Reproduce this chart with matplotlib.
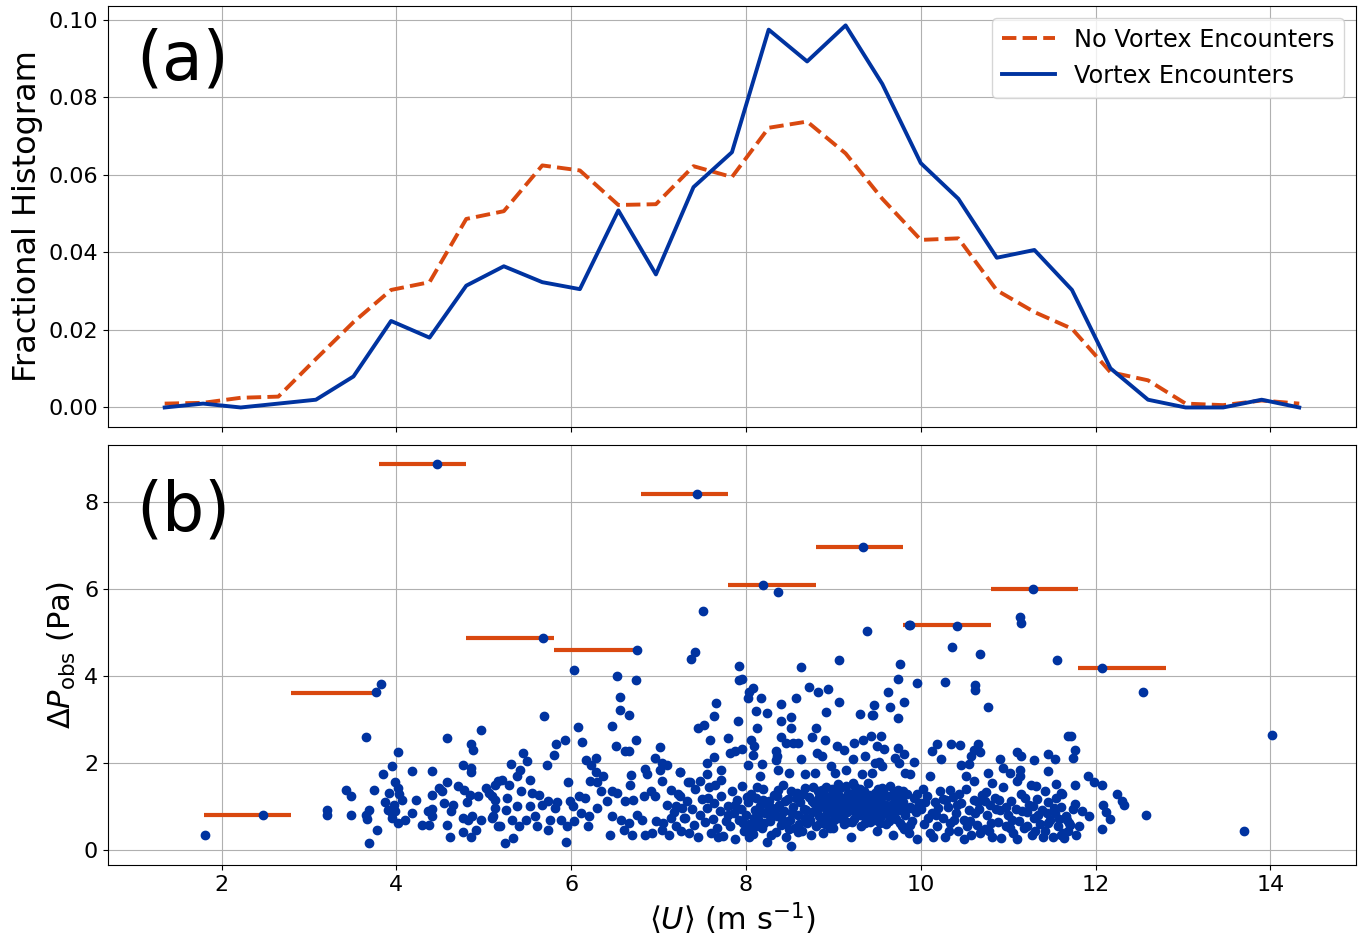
import matplotlib
matplotlib.use("Agg")
import matplotlib.pyplot as plt
import numpy as np

# colours
BLUE = '#0033a0'
ORANGE = '#d9480f'

# ---- panel (a): fractional histograms of <U> ----
u_centers = [1.35, 1.79, 2.22, 2.65, 3.08, 3.51, 3.94, 4.38, 4.80, 5.23, 5.67,
             6.10, 6.54, 6.97, 7.40, 7.84, 8.26, 8.70, 9.14, 9.56, 10.00,
             10.43, 10.87, 11.30, 11.73, 12.17, 12.60, 13.03, 13.46, 13.90, 14.33]
frac_no_vortex = [0.0010, 0.0012, 0.0025, 0.0028, 0.0125, 0.0220, 0.0303, 0.0323,
                  0.0486, 0.0506, 0.0624, 0.0611, 0.0522, 0.0524, 0.0622, 0.0594,
                  0.0721, 0.0737, 0.0655, 0.0538, 0.0432, 0.0436, 0.0302, 0.0246,
                  0.0203, 0.0091, 0.0070, 0.0010, 0.0006, 0.0018, 0.0010]
frac_vortex = [0.0000, 0.0010, 0.0000, 0.0010, 0.0020, 0.0080, 0.0223, 0.0180,
               0.0314, 0.0364, 0.0323, 0.0305, 0.0508, 0.0343, 0.0568, 0.0658,
               0.0974, 0.0892, 0.0985, 0.0834, 0.0630, 0.0538, 0.0386, 0.0406,
               0.0303, 0.0101, 0.0020, 0.0000, 0.0000, 0.0020, 0.0000]

# ---- panel (b): pressure drop of each encounter vs <U> ----
encounters = [
    # sparse / upper points
    (1.81, 0.36), (2.47, 0.80), (3.77, 3.63), (3.82, 3.82), (4.46, 8.88),
    (5.68, 4.88), (6.75, 4.59), (7.44, 8.18), (8.19, 6.09), (8.37, 5.93),
    (9.34, 6.97), (9.88, 5.18), (10.42, 5.15), (11.28, 6.01), (12.07, 4.19),
    (12.54, 3.63), (13.70, 0.45), (14.02, 2.65),
    # 3 - 5 m/s
    (3.65, 2.60), (4.02, 2.26), (3.95, 1.93), (3.85, 1.76), (4.18, 1.81),
    (4.41, 1.81), (4.58, 2.57), (4.97, 2.77), (4.85, 2.44), (4.88, 2.30),
    (4.76, 1.95), (4.86, 1.90), (4.86, 1.80), (3.21, 0.93), (3.21, 0.81),
    (3.42, 1.38), (3.48, 1.24), (3.48, 0.80), (3.65, 0.81), (3.69, 0.93),
    (3.67, 0.72), (3.75, 1.39), (3.78, 0.47), (3.69, 0.16), (3.99, 1.56),
    (3.92, 1.31), (4.02, 1.43), (4.03, 1.29), (4.06, 1.16), (3.87, 1.11),
    (3.90, 0.93), (3.95, 0.85), (3.97, 1.04), (3.99, 0.91), (3.95, 0.74),
    (4.02, 0.62), (4.10, 0.70), (4.18, 0.85), (4.22, 1.16), (4.29, 0.57),
    (4.37, 0.57), (4.36, 0.91), (4.41, 0.95), (4.41, 0.78), (4.41, 1.27),
    (4.49, 1.43), (4.52, 1.35), (4.58, 1.56), (4.55, 1.08), (4.65, 1.04),
    (4.63, 0.91), (4.58, 0.58), (4.61, 0.31), (4.71, 1.47), (4.78, 1.39),
    (4.84, 1.27), (4.81, 1.10), (4.94, 1.24), (5.03, 1.43), (5.09, 1.24),
    (4.76, 0.74), (4.82, 0.70), (4.87, 0.78), (4.76, 0.43), (4.85, 0.30),
    (4.91, 0.47), (4.97, 0.70), (5.11, 0.78), (5.16, 0.55), (5.16, 1.58),
    # 5 - 7.3 m/s
    (6.03, 4.14), (6.53, 4.01), (6.74, 3.91), (6.56, 3.51), (6.56, 3.23),
    (6.66, 3.10), (5.69, 3.08), (6.47, 2.86), (6.08, 2.82), (6.12, 2.48),
    (5.93, 2.53), (5.83, 2.44), (5.80, 2.18), (5.72, 1.95), (5.45, 2.24),
    (5.49, 2.05), (5.31, 1.97), (6.51, 2.39), (6.62, 2.27), (6.66, 2.29),
    (6.74, 2.53), (7.02, 2.37), (6.96, 2.12), (7.04, 2.00), (7.10, 1.96),
    (7.02, 1.85), (7.25, 1.80), (6.84, 1.87), (6.87, 1.76), (6.68, 1.72),
    (6.67, 1.51), (7.04, 1.60), (7.34, 1.56), (6.17, 2.07), (6.23, 1.95),
    (6.29, 2.12), (6.29, 1.80), (6.37, 1.70), (6.22, 1.60), (6.30, 1.57),
    (6.34, 1.37), (5.96, 1.57), (5.42, 1.84), (5.38, 1.70), (5.53, 1.62),
    (5.21, 1.62), (5.13, 1.51), (5.29, 1.51), (5.06, 1.31), (5.13, 1.16),
    (5.27, 1.20), (5.43, 1.35), (5.55, 1.31), (5.63, 1.27), (5.74, 1.14),
    (5.84, 1.10), (5.99, 1.14), (6.09, 1.25), (6.16, 1.21), (5.13, 0.97),
    (5.25, 0.93), (5.38, 1.02), (5.53, 1.01), (5.67, 1.04), (5.82, 0.97),
    (6.02, 1.02), (6.11, 0.85), (6.20, 0.78), (6.30, 0.97), (6.41, 1.12),
    (6.47, 1.35), (6.52, 1.31), (6.62, 1.12), (6.71, 1.16), (6.83, 1.24),
    (6.91, 1.35), (6.96, 1.24), (7.14, 1.39), (7.24, 1.24), (5.09, 0.74),
    (5.19, 0.55), (5.32, 0.70), (5.40, 0.55), (5.48, 0.70), (5.59, 0.78),
    (5.61, 0.56), (5.76, 0.70), (5.74, 0.47), (5.88, 0.70), (5.95, 0.55),
    (6.03, 0.66), (6.19, 0.55), (5.94, 0.20), (5.24, 0.16), (5.33, 0.28),
    (6.45, 0.35), (6.47, 0.78), (6.57, 0.70), (6.60, 0.47), (6.70, 0.35),
    (6.66, 0.62), (6.75, 0.81), (6.81, 0.70), (6.85, 0.34), (6.93, 0.39),
    (6.97, 0.66), (7.04, 0.47), (7.14, 0.74), (7.20, 0.55), (7.29, 0.74),
    (7.27, 0.97), (7.20, 1.01),
    # 7.3 - 9.6 m/s, upper part
    (7.51, 5.50), (9.39, 5.04), (7.42, 4.56), (7.37, 4.39), (9.07, 4.36),
    (7.92, 4.24), (8.63, 4.20), (7.92, 3.91), (7.96, 3.93), (8.72, 3.76),
    (8.83, 3.63), (8.94, 3.71), (8.08, 3.73), (8.04, 3.63), (8.02, 3.49),
    (8.17, 3.50), (7.66, 3.38), (8.57, 3.49), (8.40, 3.35), (9.07, 3.41),
    (8.12, 3.21), (8.24, 3.16), (8.92, 3.17), (9.30, 3.14), (9.44, 3.10),
    (9.47, 3.33), (7.63, 3.08), (8.51, 3.06), (8.40, 2.96), (8.52, 2.80),
    (7.91, 2.96), (8.13, 2.80), (7.45, 2.80), (7.52, 2.87), (8.80, 2.80),
    (7.59, 2.54), (7.80, 2.57), (8.40, 2.61), (8.75, 2.61), (8.90, 2.53),
    (9.24, 2.47), (9.34, 2.54), (9.43, 2.62), (8.46, 2.47), (8.54, 2.47),
    (8.60, 2.47), (8.06, 2.53), (8.09, 2.39), (7.82, 2.24), (7.88, 2.27),
    (7.95, 2.33), (8.08, 2.19), (8.34, 2.27), (8.35, 2.16), (7.64, 2.14),
    (7.56, 2.00), (8.63, 2.10), (8.81, 2.24), (8.87, 2.16), (9.04, 2.39),
    (9.12, 2.31), (9.22, 2.10), (9.36, 2.16), (9.50, 2.39), (9.48, 2.00),
    (8.02, 1.95), (8.18, 1.98), (8.34, 2.08), (7.25, 1.79), (7.56, 1.76),
    (7.71, 1.84), (7.72, 1.62), (7.36, 1.56), (7.47, 1.58), (7.65, 1.51),
    (8.16, 1.70), (8.37, 1.85), (8.49, 1.77), (8.68, 1.74), (8.79, 1.77),
    (8.97, 1.93), (9.02, 1.77), (9.14, 1.85), (9.33, 1.74), (9.44, 1.77),
    # 7 - 10 m/s, dense lower part
    (7.05, 0.62), (7.10, 1.05), (7.12, 0.35), (7.18, 0.88), (7.22, 1.30),
    (7.26, 0.45), (7.30, 0.75), (7.33, 1.12), (7.38, 0.95), (7.40, 0.58),
    (7.42, 1.40), (7.45, 0.30), (7.48, 0.82), (7.50, 1.18), (7.53, 0.65),
    (7.55, 0.98), (7.58, 1.45), (7.60, 0.40), (7.62, 0.72), (7.64, 1.08),
    (7.67, 0.52), (7.70, 0.90), (7.72, 1.25), (7.74, 0.33), (7.77, 0.68),
    (7.80, 1.02), (7.82, 0.55), (7.84, 1.35), (7.86, 0.85), (7.88, 0.25),
    (7.90, 1.15), (7.92, 0.70), (7.94, 0.95), (7.96, 1.48), (7.98, 0.45),
    (8.00, 0.80), (8.02, 1.10), (8.04, 0.60), (8.06, 1.30), (8.08, 0.38),
    (8.10, 0.92), (8.12, 1.20), (8.14, 0.72), (8.16, 1.02), (8.18, 0.50),
    (8.20, 1.40), (8.22, 0.85), (8.24, 0.20), (8.26, 1.12), (8.28, 0.66),
    (8.30, 0.98), (8.32, 1.28), (8.34, 0.42), (8.36, 0.78), (8.38, 1.05),
    (8.40, 0.58), (8.42, 1.50), (8.44, 0.90), (8.46, 0.30), (8.48, 1.18),
    (8.50, 0.70), (8.52, 0.10), (8.54, 1.00), (8.56, 0.52), (8.58, 1.32),
    (8.60, 0.82), (8.62, 1.10), (8.64, 0.45), (8.66, 0.95), (8.68, 1.42),
    (8.70, 0.62), (8.72, 1.22), (8.74, 0.35), (8.76, 0.88), (8.78, 1.08),
    (8.80, 0.55), (8.82, 1.35), (8.84, 0.78), (8.86, 1.15), (8.88, 0.40),
    (8.90, 1.00), (8.92, 1.45), (8.94, 0.68), (8.96, 1.25), (8.98, 0.85),
    (9.00, 0.50), (9.02, 1.10), (9.04, 1.38), (9.06, 0.75), (9.08, 0.95),
    (9.10, 1.20), (9.12, 0.60), (9.14, 1.48), (9.16, 0.88), (9.18, 1.05),
    (9.20, 0.30), (9.22, 1.30), (9.24, 0.72), (9.26, 1.12), (9.28, 0.95),
    (9.30, 1.40), (9.32, 0.55), (9.34, 1.00), (9.36, 1.22), (9.38, 0.80),
    (9.40, 1.55), (9.42, 0.65), (9.44, 1.08), (9.46, 0.90), (9.48, 1.32),
    (9.50, 0.45), (9.52, 1.15), (9.54, 0.78), (9.56, 1.42), (9.58, 0.98),
    (9.60, 0.60), (9.62, 1.25), (9.64, 0.85), (9.66, 1.05), (9.68, 0.35),
    (9.70, 1.18), (9.72, 0.72), (9.74, 1.38), (9.76, 0.92), (9.78, 0.55),
    (9.80, 1.10), (9.82, 0.80), (9.84, 1.30), (9.86, 0.40), (9.88, 1.00),
    (9.90, 0.68), (9.92, 1.20), (9.94, 0.88), (9.96, 0.25), (9.98, 1.08),
    (8.01, 1.22), (8.05, 0.45), (8.09, 0.75), (8.13, 1.45), (8.17, 0.88),
    (8.21, 0.62), (8.25, 1.05), (8.29, 0.35), (8.33, 0.92), (8.37, 1.38),
    (8.41, 0.72), (8.45, 1.12), (8.49, 0.48), (8.53, 0.85), (8.57, 1.20),
    (8.61, 0.60), (8.65, 1.30), (8.69, 0.92), (8.73, 0.70), (8.77, 1.45),
    (8.81, 1.02), (8.85, 0.62), (8.89, 1.28), (8.93, 0.88), (8.97, 1.12),
    (9.01, 0.70), (9.05, 1.52), (9.09, 0.82), (9.13, 1.00), (9.17, 1.32),
    (9.21, 0.65), (9.25, 1.45), (9.29, 0.88), (9.33, 1.18), (9.37, 0.72),
    (9.41, 1.28), (9.45, 0.95), (9.49, 1.15), (9.53, 0.62), (9.57, 1.35),
    (9.61, 0.90), (9.65, 1.48), (9.69, 0.78), (9.73, 1.02), (9.77, 1.25),
    (9.81, 0.48), (8.83, 0.95), (8.87, 1.38), (8.91, 0.60), (8.95, 1.05),
    (8.99, 1.40), (9.03, 0.90), (9.07, 1.25), (9.11, 0.78), (9.15, 1.15),
    (9.19, 0.95), (9.23, 1.55), (9.27, 1.05), (9.31, 0.80), (9.35, 1.35),
    (9.39, 0.98), (9.43, 1.20), (9.47, 0.70), (9.51, 1.40), (9.55, 1.10),
    (9.59, 0.85), (8.03, 0.30), (8.11, 0.55), (8.19, 1.15), (8.27, 0.78),
    (8.35, 1.25), (8.43, 0.62), (8.51, 1.35), (8.59, 0.42), (8.67, 0.75),
    (8.75, 1.12), (8.79, 0.90), (8.84, 1.22), (8.88, 0.72), (8.92, 1.08),
    (8.96, 0.52), (9.00, 1.28), (9.04, 0.98), (9.08, 1.42), (9.12, 1.08),
    (9.16, 0.65), (9.20, 1.18), (9.24, 0.90), (9.28, 1.32), (9.32, 1.05),
    (9.36, 0.62), (9.40, 1.12), (9.44, 0.82), (9.48, 1.02), (9.52, 0.88),
    (9.56, 1.25), (9.60, 1.05), (9.64, 0.68), (9.68, 1.30), (9.72, 0.95),
    (9.76, 0.62), (9.80, 1.35), (9.84, 0.95), (9.88, 0.58), (9.92, 0.95),
    (9.96, 1.30), (7.35, 0.40), (7.57, 1.20), (7.68, 0.30), (7.79, 0.80),
    (7.87, 1.05), (7.97, 0.62),
    # 9.4 - 11.8 m/s, upper part
    (9.87, 5.18), (11.14, 5.36), (11.15, 5.23), (10.36, 4.68), (10.68, 4.52),
    (11.56, 4.36), (9.76, 4.29), (9.74, 3.94), (9.96, 3.85), (10.28, 3.87),
    (10.62, 3.79), (10.62, 3.69), (10.77, 3.29), (9.63, 3.64), (9.65, 3.30),
    (9.81, 3.40), (9.45, 3.10), (9.74, 3.04), (9.54, 2.62), (9.58, 2.33),
    (9.74, 2.35), (9.71, 2.12), (9.81, 2.20), (9.75, 2.00), (9.92, 2.03),
    (9.52, 2.02), (9.56, 1.93), (10.19, 2.45), (10.35, 2.45), (10.45, 2.41),
    (10.66, 2.45), (10.13, 2.27), (10.23, 2.10), (10.61, 2.31), (10.57, 2.16),
    (10.68, 2.25), (11.10, 2.26), (11.15, 2.17), (11.29, 2.07), (11.45, 2.20),
    (11.54, 2.10), (11.68, 2.62), (10.91, 2.10), (10.94, 1.89), (10.46, 1.95),
    (10.55, 1.97), (11.02, 1.77), (11.14, 1.84), (11.13, 1.70), (11.45, 1.81),
    (9.82, 1.77), (9.88, 1.75), (10.11, 1.70), (10.34, 1.39), (10.52, 1.70),
    (10.61, 1.58), (10.77, 1.77), (10.81, 1.54), (10.75, 1.34), (11.10, 1.58),
    (11.26, 1.51), (11.32, 1.47), (11.42, 1.37), (11.55, 1.53), (11.61, 1.31),
    # 10 - 11.8 m/s, dense lower part
    (10.00, 0.95), (10.04, 0.60), (10.07, 1.25), (10.10, 0.40), (10.13, 0.85),
    (10.16, 1.10), (10.19, 0.55), (10.22, 1.35), (10.25, 0.75), (10.28, 0.30),
    (10.31, 1.00), (10.34, 0.62), (10.37, 1.22), (10.40, 0.85), (10.43, 0.45),
    (10.46, 1.08), (10.49, 0.70), (10.52, 1.40), (10.55, 0.92), (10.58, 0.35),
    (10.61, 1.15), (10.64, 0.58), (10.67, 0.95), (10.70, 1.28), (10.73, 0.48),
    (10.76, 0.80), (10.79, 1.05), (10.82, 0.30), (10.85, 1.20), (10.88, 0.65),
    (10.91, 0.92), (10.94, 1.45), (10.97, 0.55), (11.00, 0.80), (11.03, 1.12),
    (11.06, 0.40), (11.09, 0.95), (11.12, 0.68), (11.15, 1.30), (11.18, 0.50),
    (11.21, 0.88), (11.24, 1.05), (11.27, 0.35), (11.30, 0.75), (11.33, 1.18),
    (11.36, 0.60), (11.39, 0.92), (11.42, 0.45), (11.45, 1.10), (11.48, 0.70),
    (11.51, 0.30), (11.54, 0.85), (11.57, 0.55), (11.60, 1.00), (11.63, 0.40),
    (11.66, 0.78), (11.70, 0.62), (11.74, 0.95), (10.02, 1.40), (10.08, 0.75),
    (10.14, 0.30), (10.20, 0.98), (10.26, 1.18), (10.32, 0.45), (10.38, 0.70),
    (10.44, 1.30), (10.50, 0.25), (10.56, 0.68), (10.62, 0.85), (10.68, 0.40),
    (10.74, 1.12), (10.80, 0.62), (10.86, 0.95), (10.92, 0.28), (10.98, 1.00),
    (11.04, 0.70), (11.10, 0.25), (11.16, 0.90), (11.22, 0.55), (11.28, 1.02),
    (11.34, 0.82), (11.40, 0.30), (11.46, 0.62), (11.52, 0.98), (11.58, 0.72),
    (11.64, 0.28), (10.05, 1.10), (10.18, 0.80), (10.29, 1.15), (10.41, 1.05),
    (10.53, 0.55), (10.66, 1.10), (10.78, 0.45), (10.90, 1.15), (11.02, 0.50),
    (11.19, 1.20), (11.31, 0.45), (11.44, 0.85), (11.55, 1.20), (11.68, 0.45),
    # 11.6 - 12.6 m/s
    (11.72, 2.62), (11.77, 2.31), (11.74, 2.12), (11.91, 1.70), (11.98, 1.56),
    (12.07, 1.50), (11.77, 1.50), (11.62, 1.30), (12.25, 1.29), (12.30, 1.12),
    (12.32, 1.04), (11.77, 1.07), (11.85, 0.91), (11.93, 0.78), (12.08, 1.04),
    (12.12, 0.88), (12.16, 0.72), (12.58, 0.81), (12.07, 0.49), (11.81, 0.55),
    (11.67, 0.70), (11.71, 0.58), (11.78, 0.35), (11.61, 0.35),
]

# bin edges (1 m/s wide) and the maximum dP in each bin
bin_left = [1.8, 2.8, 3.8, 4.8, 5.8, 6.8, 7.8, 8.8, 9.8, 10.8, 11.8]
bin_right = [2.8, 3.8, 4.8, 5.8, 6.8, 7.8, 8.8, 9.8, 10.8, 11.8, 12.8]
bin_max = [0.80, 3.62, 8.88, 4.87, 4.59, 8.18, 6.09, 6.97, 5.17, 6.01, 4.19]

pts = np.array(encounters)
u_obs, dp_obs = pts[:, 0], pts[:, 1]

fig, (ax1, ax2) = plt.subplots(2, 1, sharex=True, figsize=(13.58, 9.35))
fig.subplots_adjust(left=0.0795, right=0.9985, top=0.9933, bottom=0.0749, hspace=0.043)

# (a)
ax1.plot(u_centers, frac_no_vortex, '--', color=ORANGE, lw=2.8, label='No Vortex Encounters')
ax1.plot(u_centers, frac_vortex, '-', color=BLUE, lw=2.8, label='Vortex Encounters')
ax1.grid(True)
ax1.set_ylabel('Fractional Histogram', fontsize=23)
ax1.legend(loc='upper right', fontsize=17.3, handlelength=2.2)
ax1.text(0.023, 0.95, '(a)', transform=ax1.transAxes, fontsize=48, va='top', ha='left')
ax1.tick_params(labelsize=16)

# (b)
ax2.hlines(bin_max, bin_left, bin_right, color=ORANGE, lw=3, zorder=2)
ax2.scatter(u_obs, dp_obs, s=36, color=BLUE, zorder=3)
ax2.grid(True)
ax2.set_axisbelow(True)
ax2.set_ylabel(r'$\Delta P_{\mathrm{obs}}$ (Pa)', fontsize=22)
ax2.set_xlabel(r'$\langle U \rangle$ (m s$^{-1}$)', fontsize=22)
ax2.set_yticks([0, 2, 4, 6, 8])
ax2.text(0.023, 0.92, '(b)', transform=ax2.transAxes, fontsize=48, va='top', ha='left')
ax2.tick_params(labelsize=16)

fig.savefig('out.png', dpi=100)
